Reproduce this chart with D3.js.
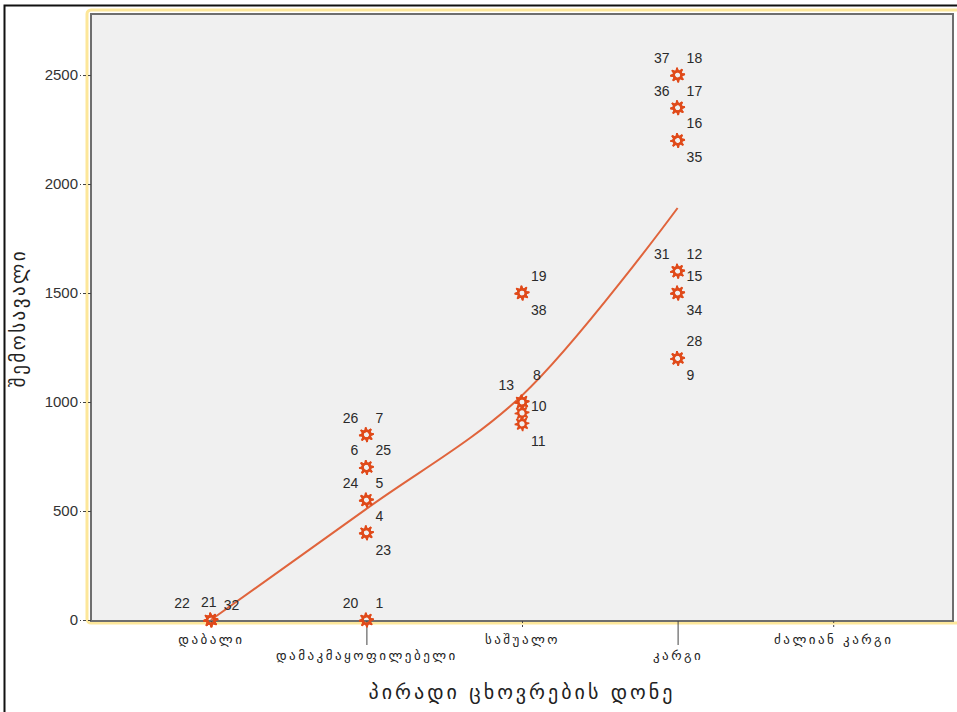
<!DOCTYPE html>
<html>
<head>
<meta charset="utf-8">
<script src="https://cdn.jsdelivr.net/npm/d3@7"></script>
<style>
  body { margin: 0; background: #fff; }
  svg { display: block; }
</style>
</head>
<body>
<div id="chart"></div>
<script>
// categories on the x axis
var categories = ["დაბალი", "დამაკმაყოფილებელი", "საშუალო", "კარგი", "ძალიან კარგი"];
var yTicks = [0, 500, 1000, 1500, 2000, 2500];

// cases: id, category index, income, where its label sits
var caseIds    = [22, 21, 32, 20, 1, 26, 7, 6, 25, 24, 5, 4, 23, 19, 38, 13, 8, 10, 11, 37, 18, 36, 17, 16, 35, 31, 12, 15, 34, 28, 9];
var caseCat    = [0, 0, 0, 1, 1, 1, 1, 1, 1, 1, 1, 1, 1, 2, 2, 2, 2, 2, 2, 3, 3, 3, 3, 3, 3, 3, 3, 3, 3, 3, 3];
var caseIncome = [0, 0, 0, 0, 0, 850, 850, 700, 700, 550, 550, 400, 400, 1500, 1500, 1000, 1000, 950, 900, 2500, 2500, 2350, 2350, 2200, 2200, 1600, 1600, 1500, 1500, 1200, 1200];
var casePos    = ["tll", "t", "trl", "tl", "tr", "tl", "tr", "tl", "tr", "tl", "tr", "tr", "br", "tr", "br", "tl", "th", "r", "br", "tl", "tr", "tl", "tr", "tr", "br", "tl", "tr", "tr", "br", "tr", "br"];

// fit line (loess) read at each category
var fitCat = [0, 1, 2, 3];
var fitVal = [0, 510, 1030, 1890];

var W = 957, H = 712;
var plot = {left: 91, top: 14, right: 953, bottom: 621};

var svg = d3.select("#chart").append("svg")
  .attr("width", W).attr("height", H);

// outer frame
svg.append("path")
  .attr("d", "M4.5," + H + "V5.5H" + W)
  .attr("fill", "none").attr("stroke", "#111").attr("stroke-width", 2);

// yellow chart border
svg.append("rect")
  .attr("x", 87).attr("y", 10).attr("width", W).attr("height", 613)
  .attr("rx", 4)
  .attr("fill", "none").attr("stroke", "#fde79a").attr("stroke-width", 3);

// plot area
svg.append("rect")
  .attr("x", plot.left).attr("y", plot.top)
  .attr("width", plot.right - plot.left).attr("height", plot.bottom - plot.top)
  .attr("fill", "#f0f0f0").attr("stroke", "#6e6e6e").attr("stroke-width", 2);

var x = d3.scalePoint()
  .domain(d3.range(categories.length))
  .range([plot.left, plot.right])
  .padding(0.77);

var y = d3.scaleLinear()
  .domain([0, 2780])
  .range([620, plot.top]);

// y axis
var yAxis = svg.append("g")
  .attr("transform", "translate(" + plot.left + ",0)")
  .call(d3.axisLeft(y).tickValues(yTicks).tickSize(11).tickPadding(2).tickFormat(d3.format("d")));
yAxis.select(".domain").remove();
yAxis.selectAll("line").attr("stroke", "#444").attr("stroke-dasharray", "3,2");
yAxis.selectAll("text")
  .attr("font-family", "Liberation Sans, Arial, sans-serif")
  .attr("font-size", 15).attr("fill", "#333");

// x axis
var xAxis = svg.append("g")
  .attr("transform", "translate(0," + plot.bottom + ")")
  .call(d3.axisBottom(x).tickSizeOuter(0).tickFormat(function(i) { return categories[i]; }));
xAxis.select(".domain").remove();
xAxis.selectAll(".tick line")
  .attr("stroke", "#444")
  .attr("y2", function(i) { return i % 2 ? 24 : 6; })
  .attr("stroke-dasharray", function(i) { return i % 2 ? null : "2,2"; });
xAxis.selectAll(".tick text")
  .attr("y", function(i) { return i % 2 ? 30 : 14; })
  .attr("font-family", "DejaVu Sans, sans-serif")
  .attr("font-size", 13).attr("letter-spacing", 2.5).attr("fill", "#222");

// axis titles
svg.append("text")
  .attr("x", x(2)).attr("y", 699)
  .attr("text-anchor", "middle")
  .attr("font-family", "DejaVu Sans, sans-serif")
  .attr("font-size", 20).attr("letter-spacing", 3).attr("fill", "#222")
  .text("პირადი ცხოვრების დონე");

svg.append("text")
  .attr("transform", "translate(25,318) rotate(-90)")
  .attr("text-anchor", "middle")
  .attr("font-family", "DejaVu Sans, sans-serif")
  .attr("font-size", 19).attr("letter-spacing", 2.5).attr("fill", "#222")
  .text("შემოსავალი");

// fit line
var line = d3.line()
  .x(function(d, i) { return x(fitCat[i]); })
  .y(function(d) { return y(d); })
  .curve(d3.curveCatmullRom.alpha(0.5));

svg.append("path")
  .datum(fitVal)
  .attr("d", line)
  .attr("fill", "none")
  .attr("stroke", "#e0643c")
  .attr("stroke-width", 2);

// gear shaped marker
function gear(ro, ri, hole, teeth) {
  var p = d3.path(), n = teeth * 4;
  for (var k = 0; k < n; k++) {
    var a = (k / n) * 2 * Math.PI - Math.PI / 2,
        r = (k % 4 < 2) ? ro : ri;
    var px = r * Math.cos(a), py = r * Math.sin(a);
    if (k === 0) p.moveTo(px, py); else p.lineTo(px, py);
  }
  p.closePath();
  p.moveTo(hole, 0);
  p.arc(0, 0, hole, 0, 2 * Math.PI);
  return p.toString();
}
var gearPath = gear(7.5, 5, 2.6, 8);

var cases = caseIds.map(function(id, i) {
  return {id: id, cat: caseCat[i], income: caseIncome[i], pos: casePos[i]};
});

svg.append("g").selectAll("path")
  .data(cases)
  .enter()
  .append("path")
    .attr("d", gearPath)
    .attr("transform", function(d) { return "translate(" + x(d.cat) + "," + y(d.income) + ") rotate(-11)"; })
    .attr("fill", "#e04a1a")
    .attr("fill-rule", "evenodd");

// case labels
var offsets = {
  tl:  {dx: -8,  dy: -12, anchor: "end"},
  tll: {dx: -21, dy: -12, anchor: "end"},
  t:   {dx: -2,  dy: -13, anchor: "middle"},
  trl: {dx: 13,  dy: -10, anchor: "start"},
  tr:  {dx: 9,   dy: -12, anchor: "start"},
  th:  {dx: 11,  dy: -22, anchor: "start"},
  r:   {dx: 9,   dy: -2,  anchor: "start"},
  br:  {dx: 9,   dy: 22,  anchor: "start"}
};

svg.append("g").selectAll("text")
  .data(cases)
  .enter()
  .append("text")
    .attr("x", function(d) { return x(d.cat) + offsets[d.pos].dx; })
    .attr("y", function(d) { return y(d.income) + offsets[d.pos].dy; })
    .attr("text-anchor", function(d) { return offsets[d.pos].anchor; })
    .attr("font-family", "Liberation Sans, Arial, sans-serif")
    .attr("font-size", 14)
    .attr("fill", "#2a2a2a")
    .text(function(d) { return d.id; });
</script>
</body>
</html>
